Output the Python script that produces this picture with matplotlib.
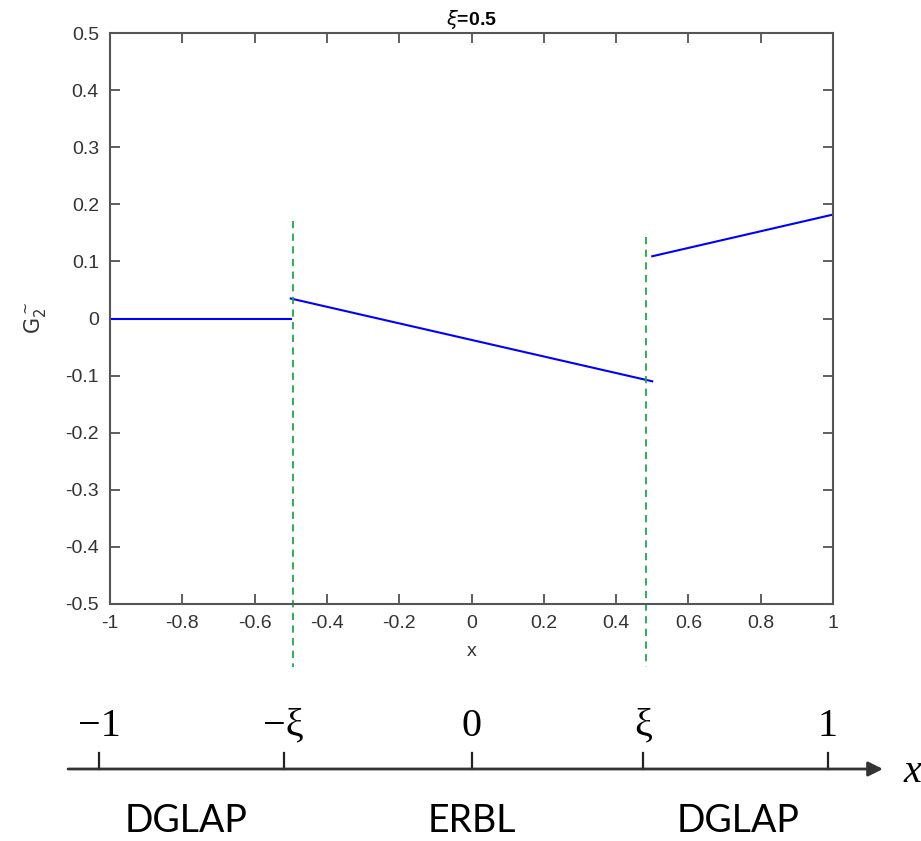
import numpy as np
import matplotlib
matplotlib.use("Agg")
import matplotlib.pyplot as plt

# G~_2 at xi = 0.5, three pieces (DGLAP / ERBL / DGLAP)
xi = 0.5
seg_left_x = [-1.0, -0.5]
seg_left_y = [0.0, 0.0]
seg_mid_x = [-0.5, 0.5]
seg_mid_y = [0.035, -0.11]
seg_right_x = [0.5, 1.0]
seg_right_y = [0.109, 0.182]

# hand-drawn vertical markers at -xi and xi (x, y_top, y_bottom)
marker_x = [-0.494, 0.483]
marker_top = [0.17, 0.142]
marker_bot = [-0.61, -0.61]

xticks = [-1, -0.8, -0.6, -0.4, -0.2, 0, 0.2, 0.4, 0.6, 0.8, 1]
yticks = [-0.5, -0.4, -0.3, -0.2, -0.1, 0, 0.1, 0.2, 0.3, 0.4, 0.5]

# number line underneath
nl_pos = [-1.03, -0.52, 0.0, 0.475, 0.985]
nl_labels = ["\u22121", "\u2212\u03be", "0", "\u03be", "1"]
region_pos = [-0.79, 0.0, 0.737]
region_labels = ["DGLAP", "ERBL", "DGLAP"]

W, H = 921, 841
fig = plt.figure(figsize=(W / 100, H / 100), dpi=100)
plt.rcParams["font.family"] = ["Liberation Sans", "DejaVu Sans"]

ax = fig.add_axes([110 / W, (H - 604) / H, 723 / W, 571 / H])
blue = "#0000ff"
ax.plot(seg_left_x, seg_left_y, color=blue, lw=1.5)
ax.plot(seg_mid_x, seg_mid_y, color=blue, lw=1.5)
ax.plot(seg_right_x, seg_right_y, color=blue, lw=1.5)
for mx, mt, mb in zip(marker_x, marker_top, marker_bot):
    ax.plot([mx, mx], [mt, mb], color="#1aaa4a", lw=1.3, ls=(0, (4, 3)), clip_on=False)

ax.set_xlim(-1, 1)
ax.set_ylim(-0.5, 0.5)
ax.set_xticks(xticks)
ax.set_yticks(yticks)
ax.set_xticklabels([f"{t:g}" for t in xticks])
ax.set_yticklabels([f"{t:g}" for t in yticks])
ax.tick_params(direction="in", length=7, width=1.2, top=True, right=True,
               labelsize=14, colors="#444444", labelcolor="#333333", pad=8)
for s in ax.spines.values():
    s.set_color("#555555")
    s.set_linewidth(1.5)
ax.set_xlabel("x", fontsize=14, color="#333333", labelpad=8)
ax.set_ylabel(r"$\mathrm{G}^{\sim}_{2}$", fontsize=15, color="#333333", labelpad=12)
ax.set_title(r"$\xi$=0.5", fontsize=14, fontweight="bold", pad=6)

# number line axes (y in pixels from the bottom of the figure)
ax2 = fig.add_axes([110 / W, 0, 723 / W, 170 / H])
ax2.set_xlim(-1, 1)
ax2.set_ylim(0, 170)
ax2.axis("off")
ax2.annotate("", xy=(1.138, 72), xytext=(-1.116, 72),
             arrowprops=dict(arrowstyle="-|>", color="#333333", lw=2,
                             mutation_scale=22, shrinkA=0, shrinkB=0),
             annotation_clip=False)
for p, lab in zip(nl_pos, nl_labels):
    ax2.plot([p, p], [72, 88], color="#222222", lw=1.6, clip_on=False)
    ax2.text(p, 115, lab, ha="center", va="center", fontsize=29,
             family="Liberation Serif", clip_on=False)
ax2.text(1.195, 68, "x", ha="left", va="center", fontsize=29,
         family="Liberation Serif", style="italic", clip_on=False)
for p, lab in zip(region_pos, region_labels):
    ax2.text(p, 20, lab, ha="center", va="center", fontsize=27,
             family="Lato", clip_on=False)

fig.savefig("out.png", dpi=100)
